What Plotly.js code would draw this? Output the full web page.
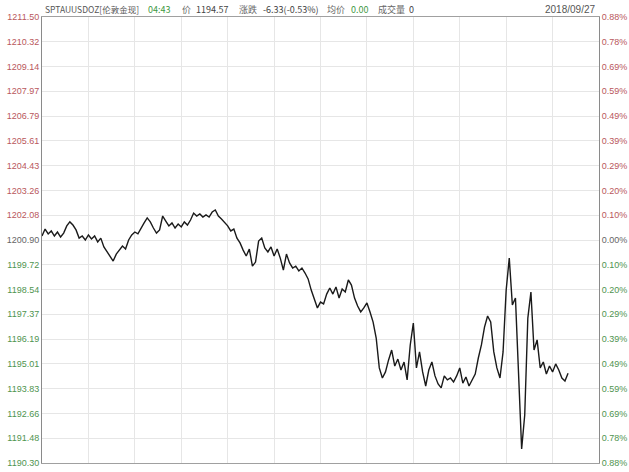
<!DOCTYPE html>
<html>
<head>
<meta charset="utf-8">
<script src="https://cdn.plot.ly/plotly-3.0.1.min.js"></script>
<style>html,body{margin:0;padding:0;background:#fff;}#chart{width:629px;height:472px;}</style>
</head>
<body>
<div id="chart"></div>
<script>
// Gold spot price (SPTAUUSDOZ), one reading every 8 minutes from session start
const stepMinutes = 8;
const prices = [
1201.09,1201.42,1201.19,1201.33,1201.09,1201.28,1201.04,1201.23,1201.57,1201.76,
1201.61,1201.38,1200.99,1201.09,1200.90,1201.14,1200.95,1201.09,1200.81,1200.99,
1200.57,1200.33,1200.14,1199.90,1200.23,1200.42,1200.61,1200.47,1200.90,1201.14,
1201.28,1201.19,1201.42,1201.71,1201.95,1201.76,1201.47,1201.23,1201.38,1202.04,
1201.80,1201.57,1201.71,1201.47,1201.66,1201.52,1201.76,1201.61,1201.85,1202.18,
1202.04,1202.14,1201.99,1202.09,1201.99,1202.23,1202.33,1202.04,1201.90,1201.76,
1201.57,1201.33,1201.42,1200.99,1200.76,1200.42,1200.14,1200.47,1199.66,1199.85,
1200.85,1200.99,1200.52,1200.33,1200.57,1200.14,1200.47,1200.04,1199.47,1200.23,
1199.81,1199.57,1199.66,1199.43,1199.57,1199.33,1199.05,1198.52,1198.14,1197.67,
1197.95,1197.86,1198.33,1198.62,1198.33,1198.67,1198.14,1198.57,1198.43,1199.00,
1198.76,1198.14,1197.76,1197.48,1197.67,1197.91,1197.48,1197.00,1196.24,1194.82,
1194.34,1194.63,1195.20,1195.67,1194.91,1195.24,1194.72,1195.10,1194.25,1195.91,
1196.95,1194.82,1195.58,1194.63,1193.96,1194.72,1195.10,1194.44,1194.06,1193.87,
1194.44,1194.25,1194.34,1194.15,1194.44,1194.82,1194.10,1194.39,1193.96,1194.25,
1194.53,1195.29,1195.91,1196.76,1197.29,1197.00,1195.58,1194.82,1194.34,1195.58,
1198.52,1200.04,1197.81,1198.14,1194.63,1190.97,1192.58,1197.19,1198.43,1195.67,
1196.15,1194.82,1195.10,1194.53,1194.91,1194.63,1195.01,1194.72,1194.34,1194.20,
1194.57
];
const priceTicks = [1211.50,1210.32,1209.14,1207.97,1206.79,1205.61,1204.43,1203.26,1202.08,
  1200.90,1199.72,1198.54,1197.37,1196.19,1195.01,1193.83,1192.66,1191.48,1190.30];
const pctTicks = ['0.88%','0.78%','0.69%','0.59%','0.49%','0.39%','0.29%','0.20%','0.10%',
  '0.00%','0.10%','0.20%','0.29%','0.39%','0.49%','0.59%','0.69%','0.78%','0.88%'];
const refPrice = 1200.90;
const header = [
  {text:'SPTAUUSDOZ[伦敦金现]', color:'#555555', px:43, size:8.5},
  {text:'04:43', color:'#3f9a3f', px:146, size:9},
  {text:'价', color:'#666666', px:180, size:9},
  {text:'1194.57', color:'#444444', px:194, size:9},
  {text:'涨跌', color:'#666666', px:237, size:9},
  {text:'-6.33(-0.53%)', color:'#444444', px:261, size:9},
  {text:'均价', color:'#666666', px:325, size:9},
  {text:'0.00', color:'#3f9a3f', px:349, size:9},
  {text:'成交量', color:'#666666', px:376, size:9},
  {text:'0', color:'#444444', px:407, size:9}
];
const dateLabel = '2018/09/27';

const times = prices.map((p,i)=>i*stepMinutes);
const RED='#b9575c', GREEN='#4f944f', MID='#666666';
function col(v){ return Math.abs(v-refPrice)<0.005 ? MID : (v>refPrice ? RED : GREEN); }
const leftText = priceTicks.map(v=>'<span style="color:'+col(v)+'">'+v.toFixed(2)+'</span>');
const rightText = pctTicks.map((t,i)=>'<span style="color:'+col(priceTicks[i])+'">'+t+'</span>');

const L=42, R=599, W=629;
const pw = R-L;
const annotations = header.map(h=>({
  text:h.text, xref:'paper', yref:'paper', x:(h.px-L)/pw, y:1, yshift:8,
  xanchor:'left', yanchor:'middle', showarrow:false,
  font:{family:'Noto Sans CJK SC, Liberation Sans, sans-serif', size:h.size, color:h.color}
}));
annotations.push({text:dateLabel, xref:'paper', yref:'paper', x:(597-L)/pw, y:1, yshift:8,
  xanchor:'right', yanchor:'middle', showarrow:false,
  font:{family:'Liberation Sans, sans-serif', size:10, color:'#555555'}});

const data = [
  {x:times, y:prices, type:'scatter', mode:'lines', line:{color:'#1a1a1a', width:1.4}, hoverinfo:'skip'},
  {x:[times[0]], y:[refPrice], yaxis:'y2', type:'scatter', mode:'markers', marker:{opacity:0}, hoverinfo:'skip', showlegend:false}
];
const yr=[1190.30,1211.50];
const layout = {
  width:629, height:472, showlegend:false,
  margin:{l:L, r:W-R, t:17, b:9},
  paper_bgcolor:'#ffffff', plot_bgcolor:'#ffffff',
  xaxis:{range:[0,1440], dtick:120, tick0:0, showticklabels:false, showgrid:true,
    gridcolor:'#e6e6e6', gridwidth:1, zeroline:false, showline:true, linecolor:'#a0a0a0',
    mirror:true, ticks:''},
  yaxis:{range:yr, tickmode:'array', tickvals:priceTicks, ticktext:leftText, showgrid:true,
    gridcolor:'#e6e6e6', gridwidth:1, zeroline:false, showline:true, linecolor:'#8a8a8a',
    ticks:'', ticklen:0, tickfont:{family:'Liberation Sans, sans-serif', size:9, color:'#666'}},
  yaxis2:{range:yr, overlaying:'y', side:'right', tickmode:'array', tickvals:priceTicks,
    ticktext:rightText, showgrid:false, zeroline:false, showline:true, linecolor:'#8a8a8a',
    ticks:'', tickfont:{family:'Liberation Sans, sans-serif', size:9, color:'#666'}},
  annotations:annotations
};
Plotly.newPlot('chart', data, layout, {displayModeBar:false, staticPlot:true});
</script>
</body>
</html>
